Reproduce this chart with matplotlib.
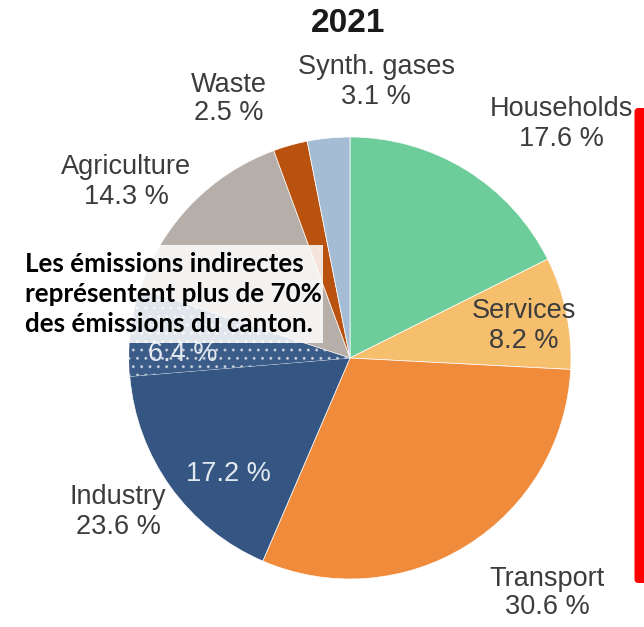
import matplotlib
matplotlib.use("Agg")
import matplotlib.pyplot as plt
from matplotlib.patches import Rectangle, FancyBboxPatch

# ---- data -------------------------------------------------------------
title = "2021"
categories = ["Households", "Services", "Transport", "Industry",
              "Agriculture", "Waste", "Synth. gases"]
shares = [17.6, 8.2, 30.6, 23.6, 14.3, 2.5, 3.1]
# Industry split: direct part (solid) and the dotted part
industry_parts = [17.2, 6.4]
note = "Les émissions indirectes\nreprésentent plus de 70%\ndes émissions du canton."

# ---- style ------------------------------------------------------------
colors = {
    "Households": "#6ccc9a",
    "Services": "#f6bf6e",
    "Transport": "#f08b3c",
    "Industry": "#355682",
    "Industry dotted": "#3b5c88",
    "Agriculture": "#b6aea8",
    "Waste": "#b9520f",
    "Synth. gases": "#a5bdd4",
}
label_color = "#3c3c3c"

W, H, DPI = 644, 627, 100
CX, CY, R = 350, 358, 221  # pie centre and radius in pixels


def to_data(px, py):
    """Pixel position (from top-left) -> pie data coordinates."""
    return (px - CX) / R, (CY - py) / R


# label anchor points (pixel, from top-left)
label_pos = {
    "Households": (561, 124),
    "Services": (524, 326),
    "Transport": (547, 593),
    "Industry": (118, 512),
    "Agriculture": (126, 182),
    "Waste": (229, 99),
    "Synth. gases": (376, 82),
}
inner_pos = [(228, 474), (183, 354)]

fig = plt.figure(figsize=(W / DPI, H / DPI), dpi=DPI)
ax = fig.add_axes([0, 0, 1, 1])

# wedge values: industry drawn as its two parts
values, wcolors = [], []
for cat, val in zip(categories, shares):
    if cat == "Industry":
        values += industry_parts
        wcolors += [colors["Industry"], colors["Industry dotted"]]
    else:
        values.append(val)
        wcolors.append(colors[cat])

wedges, _ = ax.pie(values, colors=wcolors, startangle=90, counterclock=False,
                   radius=1.0,
                   wedgeprops=dict(edgecolor="white", linewidth=0.5))
dotted = wedges[categories.index("Industry") + 1]
dotted.set_hatch("..")
dotted.set_edgecolor((1, 1, 1, 0.55))
dotted.set_linewidth(0)

ax.set_xlim(-CX / R, (W - CX) / R)
ax.set_ylim(-(H - CY) / R, CY / R)
ax.axis("off")

label_font = dict(family="Liberation Sans", fontsize=19.5, color=label_color,
                  ha="center", va="center", linespacing=1.15)
for cat, val in zip(categories, shares):
    x, y = to_data(*label_pos[cat])
    ax.text(x, y, f"{cat}\n{val:.1f} %", **label_font)

for (px, py), val in zip(inner_pos, industry_parts):
    x, y = to_data(px, py)
    ax.text(x, y, f"{val:.1f} %", family="Liberation Sans", fontsize=19.5,
            color="#e3e9f0", ha="center", va="center", zorder=3)

fig.text(348 / W, 1 - 24 / H, title, family="Liberation Sans",
         fontweight="bold", fontsize=24, color="#1a1a1a",
         ha="center", va="center")

# annotation box
fig.patches.append(Rectangle((21 / W, 1 - 343 / H), 302 / W, 98 / H,
                             transform=fig.transFigure, facecolor="white",
                             alpha=0.85, edgecolor="none", zorder=5))
fig.text(25 / W, 1 - 294 / H, note, family="Lato", fontweight="bold",
         fontsize=18.7, color="black", ha="left", va="center",
         linespacing=1.3, zorder=6)

# red frame at the right edge
fig.patches.append(FancyBboxPatch((6.345, 0.44), 0.3, 4.75,
                                  boxstyle="round,pad=0,rounding_size=0.04",
                                  transform=fig.dpi_scale_trans,
                                  facecolor="#ff0000", edgecolor="none",
                                  zorder=7))

fig.savefig("out.png", dpi=DPI)
